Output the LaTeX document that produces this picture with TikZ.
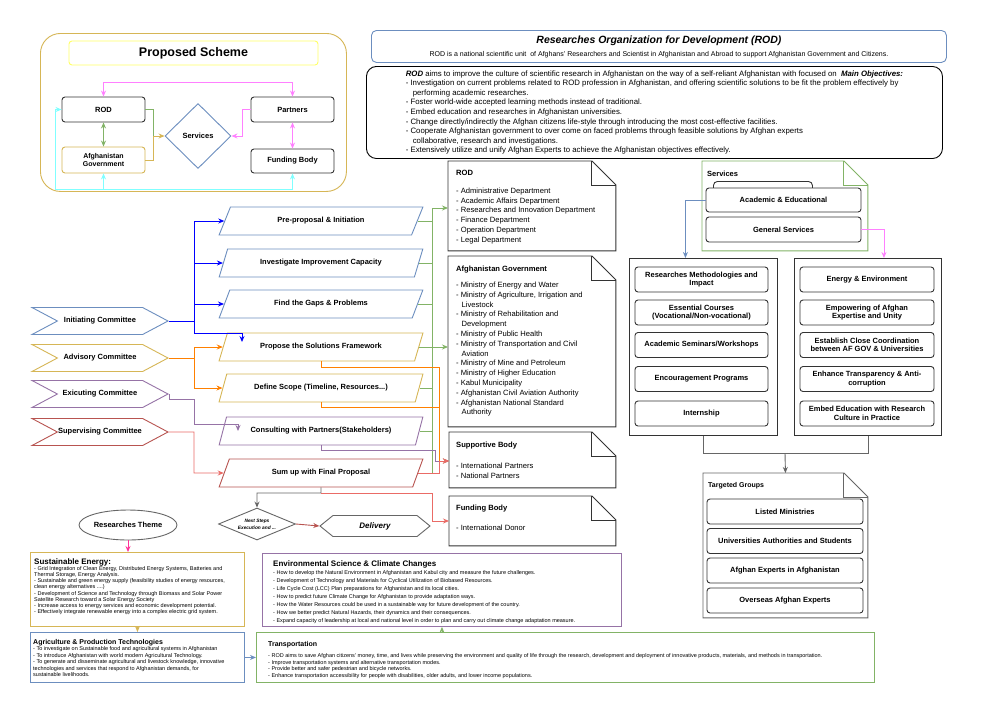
\documentclass[tikz,border=0pt]{standalone}
\usepackage{fontspec}
\setmainfont{Liberation Sans}
\usepackage{xcolor}
\usepackage{tikz}
\usetikzlibrary{arrows.meta, shapes.geometric, shapes.symbols, positioning, calc}

\definecolor{dioblue}{HTML}{6C8EBF}
\definecolor{diogold}{HTML}{D6B656}
\definecolor{diopurple}{HTML}{9673A6}
\definecolor{diored}{HTML}{B85450}
\definecolor{diogreen}{HTML}{82B366}
\definecolor{diopink}{HTML}{FF80FF}
\definecolor{diocyan}{HTML}{80FFFF}
\definecolor{themepink}{HTML}{FF3399}
\definecolor{lineblue}{HTML}{0000FF}
\definecolor{lineorange}{HTML}{FF8000}
\definecolor{linered}{HTML}{EA6B66}
\definecolor{diogray}{HTML}{666666}
\definecolor{darkframe}{HTML}{333333}
\definecolor{schemeyellow}{HTML}{FFFF66}

\newcommand{\fsz}[2]{\fontsize{#1}{#2}\selectfont}
\newcommand{\dogear}[2]{%
  \draw[#2, line width=0.9pt] (#1.north west) -- ([xshift=-24pt]#1.north east) -- ([yshift=-24pt]#1.north east) -- (#1.south east) -- (#1.south west) -- cycle;
  \draw[#2, line width=0.9pt] ([xshift=-24pt]#1.north east) -- ([xshift=-24pt, yshift=-24pt]#1.north east) -- ([yshift=-24pt]#1.north east);}

\tikzset{
  wire/.style={line width=0.9pt},
  rbox/.style={draw=#1, line width=0.9pt, rounded corners=3pt, align=center, inner sep=1pt, font=\fsz{7.5}{8.5}\bfseries},
  rbox/.default=darkframe,
  stepbox/.style={draw=#1, line width=0.9pt, signal, signal from=west, signal to=east, signal pointer angle=56, minimum width=136pt, minimum height=27pt, inner sep=0pt, font=\fsz{7.5}{8.5}\bfseries},
  parabox/.style={draw=#1, line width=0.9pt, trapezium, trapezium left angle=52, trapezium right angle=128, trapezium stretches=true, minimum width=204pt, minimum height=28pt, inner sep=0pt, font=\fsz{7.5}{8.5}\bfseries},
  panel/.style={anchor=north west, inner sep=0pt, line width=0.9pt},
  notetext/.style={anchor=north west, align=left, inner sep=0pt, font=\fsz{7.6}{9.8}},
  themetext/.style={anchor=north west, align=left, inner sep=0pt, font=\fsz{5.5}{6.2}},
}

\begin{document}
\begin{tikzpicture}[x=1pt, y=-1pt, >={Stealth[length=6pt, width=5pt]}]

      \useasboundingbox (0,0) rectangle (998,705);
      \fill[white] (0,0) rectangle (998,705);

      \node[panel, draw=diogold, rounded corners=20pt, minimum width=306pt, minimum height=158pt] (schemebg) at (40,33) {};
      \node[draw=schemeyellow, line width=0.9pt, rounded corners=3pt, minimum width=249pt, minimum height=24pt, font=\fsz{12.5}{14}\bfseries] (schemetitle) at (193.5,53) {Proposed Scheme};
      \node[rbox, minimum width=83pt, minimum height=25pt] (srod) at (103.5,109.5) {ROD};
      \node[rbox=diogold, minimum width=83pt, minimum height=26pt, font=\fsz{7}{8}\bfseries] (sgov) at (103.5,160) {Afghanistan\\Government};
      \node[draw=dioblue, line width=0.9pt, diamond, minimum width=66pt, minimum height=65pt, inner sep=0pt, font=\fsz{7.5}{8.5}\bfseries] (sserv) at (198,136) {Services};
      \node[rbox, minimum width=83pt, minimum height=25pt] (spart) at (292.5,109.5) {Partners};
      \node[rbox, minimum width=83pt, minimum height=24pt] (sfund) at (292.5,161) {Funding Body};

      \coordinate (sjoin) at (153,136);
      \coordinate (pjoin) at (242,136);
      \coordinate (cjoin) at (55,189);
      \draw[wire, diopink, <->] (srod.north) -- ++(0,-14) -| (spart.north);
      \draw[wire, diogreen, <->] (srod.south) -- (sgov.north);
      \draw[wire, diogreen] (srod.east) -| (sjoin);
      \draw[wire, diogold, ->] (sgov.east) -| (sjoin) -- (sserv.west);
      \draw[wire, diopink, ->] (spart.west) -| (pjoin) -- (sserv.east);
      \draw[wire, diopink, <->] (spart.south) -- (sfund.north);
      \draw[wire, diocyan, <->] (srod.west) -| (cjoin) -| (sfund.south);
      \draw[wire, diocyan, ->] (sgov.south |- cjoin) -- (sgov.south);

      \node[panel, draw=dioblue, rounded corners=5pt, minimum width=575pt, minimum height=32pt] (header) at (371,30) {};
      \node[align=center, inner sep=0pt] (headtext) at (header.center) {{\fsz{10.5}{12}\bfseries\itshape Researches Organization for Development (ROD)}\\[1pt]{\fsz{7}{8}ROD is a national scientific unit\ \ of Afghans' Researchers and Scientist in Afghanistan and Abroad to support Afghanistan Government and Citizens.}};

      \node[panel, draw=black, rounded corners=10pt, inner sep=4pt, minimum width=576pt, align=left, font=\fsz{7.8}{9.6}] (objectives) at (366,66) {\textbf{\textit{ROD}} aims to improve the culture of scientific research in Afghanistan on the way of a self-reliant Afghanistan with focused on\ \ \textbf{\textit{Main Objectives:}}\\
- Investigation on current problems related to ROD profession in Afghanistan, and offering scientific solutions to be fit the problem effectively by\\
\hspace*{7pt}performing academic researches.\\
- Foster world-wide accepted learning methods instead of traditional.\\
- Embed education and researches in Afghanistan universities.\\
- Change directly/indirectly the Afghan citizens life-style through introducing the most cost-effective facilities.\\
- Cooperate Afghanistan government to over come on faced problems through feasible solutions by Afghan experts\\
\hspace*{7pt}collaborative, research and investigations.\\
- Extensively utilize and unify Afghan Experts to achieve the Afghanistan objectives effectively.};

      \node[stepbox=dioblue] (initcom) at (100,321) {Initiating Committee};
      \node[stepbox=diogold] (advcom) at (100,358) {Advisory Committee};
      \node[stepbox=diopurple] (execom) at (100,394) {Exicuting Committee};
      \node[stepbox=diored] (supcom) at (100,432) {Supervising Committee};

      \node[parabox=dioblue] (preprop) at (321,221) {Pre-proposal \& Initiation};
      \node[parabox=dioblue] (investig) at (321,263) {Investigate Improvement Capacity};
      \node[parabox=dioblue] (findgaps) at (321,304) {Find the Gaps \& Problems};
      \node[parabox=diogold] (propose) at (321,347) {Propose the Solutions Framework};
      \node[parabox=diogold] (defscope) at (321,388) {Define Scope (Timeline, Resources...)};
      \node[parabox=diopurple] (consult) at (321,431) {Consulting with Partners(Stakeholders)};
      \node[parabox=diored] (sumup) at (321,473) {Sum up with Final Proposal};

      \coordinate (bjoin) at (194,321);
      \coordinate (ajoin) at (194,358);
      \draw[wire, lineblue] (initcom.east) -- (bjoin);
      \draw[wire, lineblue, ->] (bjoin) |- (preprop.west);
      \draw[wire, lineblue, ->] (bjoin) |- (investig.west);
      \draw[wire, lineblue, ->] (bjoin) |- (findgaps.west);
      \draw[wire, lineblue, ->] (bjoin) |- (242,333) -- (242,342);
      \draw[wire, lineorange] (advcom.east) -- (ajoin);
      \draw[wire, lineorange, ->] (ajoin) |- (propose.west);
      \draw[wire, lineorange, ->] (ajoin) |- (defscope.west);
      \draw[wire, diopurple, ->] (execom.east) |- (194,399) |- (238,424) -- (238,431);
      \draw[wire, linered, ->] (supcom.east) -| (194,473) -- (sumup.west);

      \node[panel, minimum width=167pt, minimum height=89pt] (rodnote) at (448,161) {};
      \dogear{rodnote}{darkframe}
      \node[notetext] (rodtext) at ([xshift=8pt, yshift=-9pt]rodnote.north west) {{\bfseries ROD}\\[8pt]
- Administrative Department\\
- Academic Affairs Department\\
- Researches and Innovation Department\\
- Finance Department\\
- Operation Department\\
- Legal Department};

      \node[panel, minimum width=167pt, minimum height=170pt] (govnote) at (448,256) {};
      \dogear{govnote}{darkframe}
      \node[notetext] (govtext) at ([xshift=8pt, yshift=-10pt]govnote.north west) {{\bfseries Afghanistan Government}\\[6pt]
- Ministry of Energy and Water\\
- Ministry of Agriculture, Irrigation and\\
\hspace*{5.5pt}Livestock\\
- Ministry of Rehabilitation and\\
\hspace*{5.5pt}Development\\
- Ministry of Public Health\\
- Ministry of Transportation and Civil\\
\hspace*{5.5pt}Aviation\\
- Ministry of Mine and Petroleum\\
- Ministry of Higher Education\\
- Kabul Municipality\\
- Afghanistan Civil Aviation Authority\\
- Afghanistan National Standard\\
\hspace*{5.5pt}Authority};

      \node[panel, minimum width=166pt, minimum height=55pt] (suppnote) at (449,432) {};
      \dogear{suppnote}{darkframe}
      \node[notetext] (supptext) at ([xshift=7pt, yshift=-10pt]suppnote.north west) {{\bfseries Supportive Body}\\[11pt]
- International Partners\\
- National Partners};

      \node[panel, minimum width=166pt, minimum height=49pt] (fundnote) at (449,496) {};
      \dogear{fundnote}{darkframe}
      \node[notetext] (fundtext) at ([xshift=7pt, yshift=-9pt]fundnote.north west) {{\bfseries Funding Body}\\[10pt]
- International Donor};

      \coordinate (gtop) at (432,208);
      \coordinate (gbot) at (432,473);
      \coordinate (ojoin) at (439,461);
      \coordinate (splitpt) at (321,493);
      \draw[wire, diogreen] (gtop) -- (gbot);
      \draw[wire, diogreen] (preprop.east) -- (preprop.east -| gtop);
      \draw[wire, diogreen] (investig.east) -- (investig.east -| gtop);
      \draw[wire, diogreen] (findgaps.east) -- (findgaps.east -| gtop);
      \draw[wire, diogreen] (defscope.east) -- (defscope.east -| gtop);
      \draw[wire, diogreen] (consult.east) -- (consult.east -| gtop);
      \draw[wire, diogreen, ->] (gtop) -- (gtop -| rodnote.west);
      \draw[wire, diogreen, ->] (propose.east) -- (propose.east -| govnote.west);
      \draw[wire, lineorange, ->] (propose.south) -- ++(0,6) -| (ojoin) -- (ojoin -| suppnote.west);
      \draw[wire, lineorange] (defscope.south) -- ++(0,5) -| (ojoin);
      \draw[wire, diopurple, ->] (consult.south) -- ++(0,5) -| (435,461) -- (suppnote.west |- 0,461);
      \draw[wire, linered, ->] (sumup.east) -| (ojoin) -- (ojoin -| suppnote.west);

      \node[draw=diogray, line width=0.9pt, diamond, aspect=2.4, minimum width=77pt, minimum height=32pt, inner sep=0pt, align=center, font=\fsz{4.8}{7}\bfseries\itshape] (nextstep) at (257,524) {Next Steps\\Execution and ...};
      \node[draw=diogray, line width=0.9pt, signal, signal to=west and east, signal pointer angle=78, minimum width=110pt, minimum height=21pt, inner sep=0pt, font=\fsz{8}{9}\bfseries\itshape] (delivery) at (375,526) {Delivery};
      \node[draw=diogray, line width=0.9pt, ellipse, minimum width=98pt, minimum height=30pt, inner sep=0pt, font=\fsz{7.5}{8.5}\bfseries] (theme) at (128,525) {Researches Theme};

      \draw[wire, diogray, ->] (sumup.south) -- (splitpt) -| (nextstep.north);
      \draw[wire, linered, ->] (splitpt) -| (432,521) -- (fundnote.west |- 0,521);
      \draw[wire, diored, ->] (nextstep.east) -- (delivery.west);

      \node[panel, minimum width=165pt, minimum height=89pt] (servnote) at (702,161) {};
      \dogear{servnote}{diogreen}
      \node[anchor=north west, inner sep=0pt, font=\fsz{7.5}{8.5}\bfseries] (servtitle) at ([xshift=5pt, yshift=-10pt]servnote.north west) {Services};
      \node[panel, draw=darkframe, rounded corners=4pt, minimum width=99pt, minimum height=20pt] (acadtab) at (713,181) {};
      \node[rbox, fill=white, minimum width=155pt, minimum height=24pt] (acad) at (783.5,200) {Academic \& Educational};
      \node[rbox, fill=white, minimum width=155pt, minimum height=25pt] (general) at (783.5,229.5) {General Services};

      \node[panel, draw=darkframe, minimum width=148pt, minimum height=177pt] (acadlist) at (629,258) {};
      \node[panel, draw=darkframe, minimum width=147pt, minimum height=177pt] (genlist) at (794,258) {};
      \draw[wire, dioblue, ->] (acad.west) -| ([xshift=-18pt]acadlist.north);
      \draw[wire, diopink, ->] (general.east) -| ([xshift=16pt]genlist.north);

      \node[rbox, minimum width=133pt, minimum height=25pt] (methods) at (701.5,279.5) {Researches Methodologies and\\Impact};
      \node[rbox, minimum width=133pt, minimum height=25pt] (courses) at (701.5,312.5) {Essential Courses\\(Vocational/Non-vocational)};
      \node[rbox, minimum width=133pt, minimum height=25pt] (seminars) at (701.5,345) {Academic Seminars/Workshops};
      \node[rbox, minimum width=133pt, minimum height=25pt] (encourage) at (701.5,379) {Encouragement Programs};
      \node[rbox, minimum width=133pt, minimum height=25pt] (internship) at (701.5,413.5) {Internship};
      \node[rbox, minimum width=134pt, minimum height=25pt] (energyenv) at (867,279.5) {Energy \& Environment};
      \node[rbox, minimum width=134pt, minimum height=25pt] (empower) at (867,312.5) {Empowering of Afghan\\Expertise and Unity};
      \node[rbox, minimum width=134pt, minimum height=25pt] (coord) at (867,345) {Establish Close Coordination\\between AF GOV \& Universities};
      \node[rbox, minimum width=134pt, minimum height=25pt] (transparency) at (867,379) {Enhance Transparency \& Anti-\\corruption};
      \node[rbox, minimum width=134pt, minimum height=25pt] (embed) at (867,413.5) {Embed Education with Research\\Culture in Practice};

      \node[panel, minimum width=164pt, minimum height=144pt] (tgnote) at (703,473) {};
      \dogear{tgnote}{diogray}
      \node[anchor=north west, inner sep=0pt, font=\fsz{7}{8}\bfseries] (tgtitle) at ([xshift=5pt, yshift=-9pt]tgnote.north west) {Targeted Groups};
      \node[rbox, minimum width=156pt, minimum height=25pt] (ministries) at (785,511.5) {Listed Ministries};
      \node[rbox, minimum width=156pt, minimum height=25pt] (universities) at (785,541) {Universities Authorities and Students};
      \node[rbox, minimum width=156pt, minimum height=25pt] (experts) at (785,570.5) {Afghan Experts in Afghanistan};
      \node[rbox, minimum width=156pt, minimum height=25pt] (overseas) at (785,600.5) {Overseas Afghan Experts};

      \coordinate (tgjoin) at (785,453);
      \draw[wire, diogray] (acadlist.south) |- (tgjoin) -| (genlist.south);
      \draw[wire, diogray, ->] (tgjoin) -- (tgnote.north);

      \node[panel, draw=diogold, minimum width=214pt, minimum height=74pt] (energytheme) at (30,552) {};
      \node[themetext] (energytext) at ([xshift=4pt, yshift=-6pt]energytheme.north west) {{\fsz{8}{9}\bfseries Sustainable Energy:}\\
- Grid Integration of Clean Energy, Distributed Energy Systems, Batteries and\\
Thermal Storage, Energy Analysis.\\
- Sustainable and green energy supply (feasibility studies of energy resources,\\
clean energy alternatives ....)\\
- Development of Science and Technology through Biomass and Solar Power\\
Satellite Research toward a Solar Energy Society\\
- Increase access to energy services and economic development potential.\\
- Effectively integrate renewable energy into a complex electric grid system.};

      \node[panel, draw=diopurple, minimum width=359pt, minimum height=73pt] (envtheme) at (262,553) {};
      \node[themetext, font=\fsz{5.5}{7.9}] (envtext) at ([xshift=11pt, yshift=-7pt]envtheme.north west) {{\fsz{8}{9}\bfseries Environmental Science \& Climate Changes}\\[1pt]
- How to develop the Natural Environment in Afghanistan and Kabul city and measure the future challenges.\\
- Development of Technology and Materials for Cyclical Utilization of Biobased Resources.\\
- Life Cycle Cost (LCC) Plan preparations for Afghanistan and its local cities.\\
- How to predict future Climate Change for Afghanistan to provide adaptation ways.\\
- How the Water Resources could be used in a sustainable way for future development of the country.\\
- How we better predict Natural Hazards, their dynamics and their consequences.\\
- Expand capacity of leadership at local and national level in order to plan and carry out climate change adaptation measure.};

      \node[panel, draw=dioblue, minimum width=214pt, minimum height=50pt] (agritheme) at (30,632) {};
      \node[themetext, font=\fsz{5.5}{6.5}] (agritext) at ([xshift=3pt, yshift=-7pt]agritheme.north west) {{\fsz{7}{8}\bfseries Agriculture \& Production Technologies}\\
- To investigate on Sustainable food and agricultural systems in Afghanistan\\
- To introduce Afghanistan with world modern Agricultural Technology.\\
- To generate and disseminate agricultural and livestock knowledge, innovative\\
technologies and services that respond to Afghanistan demands, for\\
sustainable livelihoods.};

      \node[panel, draw=diogreen, minimum width=618pt, minimum height=50pt] (transtheme) at (256,632) {};
      \node[themetext, font=\fsz{5.5}{6.5}] (transtext) at ([xshift=12pt, yshift=-9pt]transtheme.north west) {{\fsz{7}{8}\bfseries Transportation}\\[5pt]
- ROD aims to save Afghan citizens' money, time, and lives while preserving the environment and quality of life through the research, development and deployment of innovative products, materials, and methods in transportation.\\
- Improve transportation systems and alternative transportation modes.\\
- Provide better and safer pedestrian and bicycle networks.\\
- Enhance transportation accessibility for people with disabilities, older adults, and lower income populations.};

      \draw[wire, themepink, ->] (theme.south) -- (theme.south |- energytheme.north);
      \draw[wire, diogold, ->] (energytheme.south) -- (agritheme.north);
      \draw[wire, dioblue, ->] (agritheme.east) -- (agritheme.east -| transtheme.west);
      \draw[wire, diogreen, ->] (envtheme.south |- transtheme.north) -- (envtheme.south);
    \end{tikzpicture}
\end{document}
